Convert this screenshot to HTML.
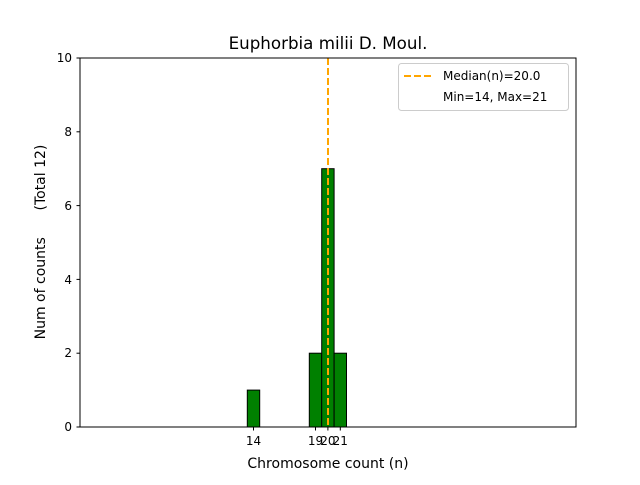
<!DOCTYPE html>
<html><head><style>body{margin:0;background:#fff}</style></head><body>
<svg width="640" height="480" xmlns="http://www.w3.org/2000/svg" font-family="DejaVu Sans, Liberation Sans, sans-serif">
<rect width="640" height="480" fill="#fff"/>
<text x="328" y="49" font-size="16.7" text-anchor="middle">Euphorbia milii D. Moul.</text>
<g fill="#008000" stroke="#000" stroke-width="1">
<rect x="247.3" y="390.1" width="12.4" height="36.9"/>
<rect x="309.3" y="353.2" width="12.4" height="73.8"/>
<rect x="321.7" y="168.7" width="12.4" height="258.3"/>
<rect x="334.1" y="353.2" width="12.4" height="73.8"/>
</g>
<line x1="80" y1="427" x2="383" y2="427" stroke="#000"/>
<line x1="328" y1="58" x2="328" y2="427" stroke="orange" stroke-width="2" stroke-dasharray="7,3"/>
<rect x="80" y="58" width="496" height="369" fill="none" stroke="#000" stroke-width="1"/>
<g stroke="#000">
<line x1="76.5" x2="80" y1="427" y2="427"/><line x1="76.5" x2="80" y1="353.2" y2="353.2"/>
<line x1="76.5" x2="80" y1="279.4" y2="279.4"/><line x1="76.5" x2="80" y1="205.6" y2="205.6"/>
<line x1="76.5" x2="80" y1="131.8" y2="131.8"/><line x1="76.5" x2="80" y1="58" y2="58"/>
<line x1="253.5" x2="253.5" y1="427" y2="430.5"/><line x1="315.5" x2="315.5" y1="427" y2="430.5"/>
<line x1="327.9" x2="327.9" y1="427" y2="430.5"/><line x1="340.3" x2="340.3" y1="427" y2="430.5"/>
</g>
<g font-size="12" text-anchor="end">
<text x="72" y="431">0</text><text x="72" y="357">2</text><text x="72" y="284">4</text>
<text x="72" y="210">6</text><text x="72" y="136">8</text><text x="72" y="62">10</text>
</g>
<g font-size="12" text-anchor="middle">
<text x="253.5" y="445">14</text><text x="315.5" y="445">19</text><text x="327.9" y="445">20</text><text x="340.3" y="445">21</text>
</g>
<text x="328" y="468" font-size="14" text-anchor="middle">Chromosome count (n)</text>
<text transform="translate(45,242) rotate(-90)" font-size="14" text-anchor="middle" style="white-space:pre">Num of counts      (Total 12)</text>
<rect x="398.5" y="63.5" width="170" height="47" rx="3" fill="#fff" stroke="#ccc"/>
<line x1="404" x2="432" y1="76" y2="76" stroke="orange" stroke-width="2" stroke-dasharray="7,3"/>
<text x="443" y="80" font-size="12">Median(n)=20.0</text>
<text x="443" y="101" font-size="12">Min=14, Max=21</text>
</svg>
</body></html>
